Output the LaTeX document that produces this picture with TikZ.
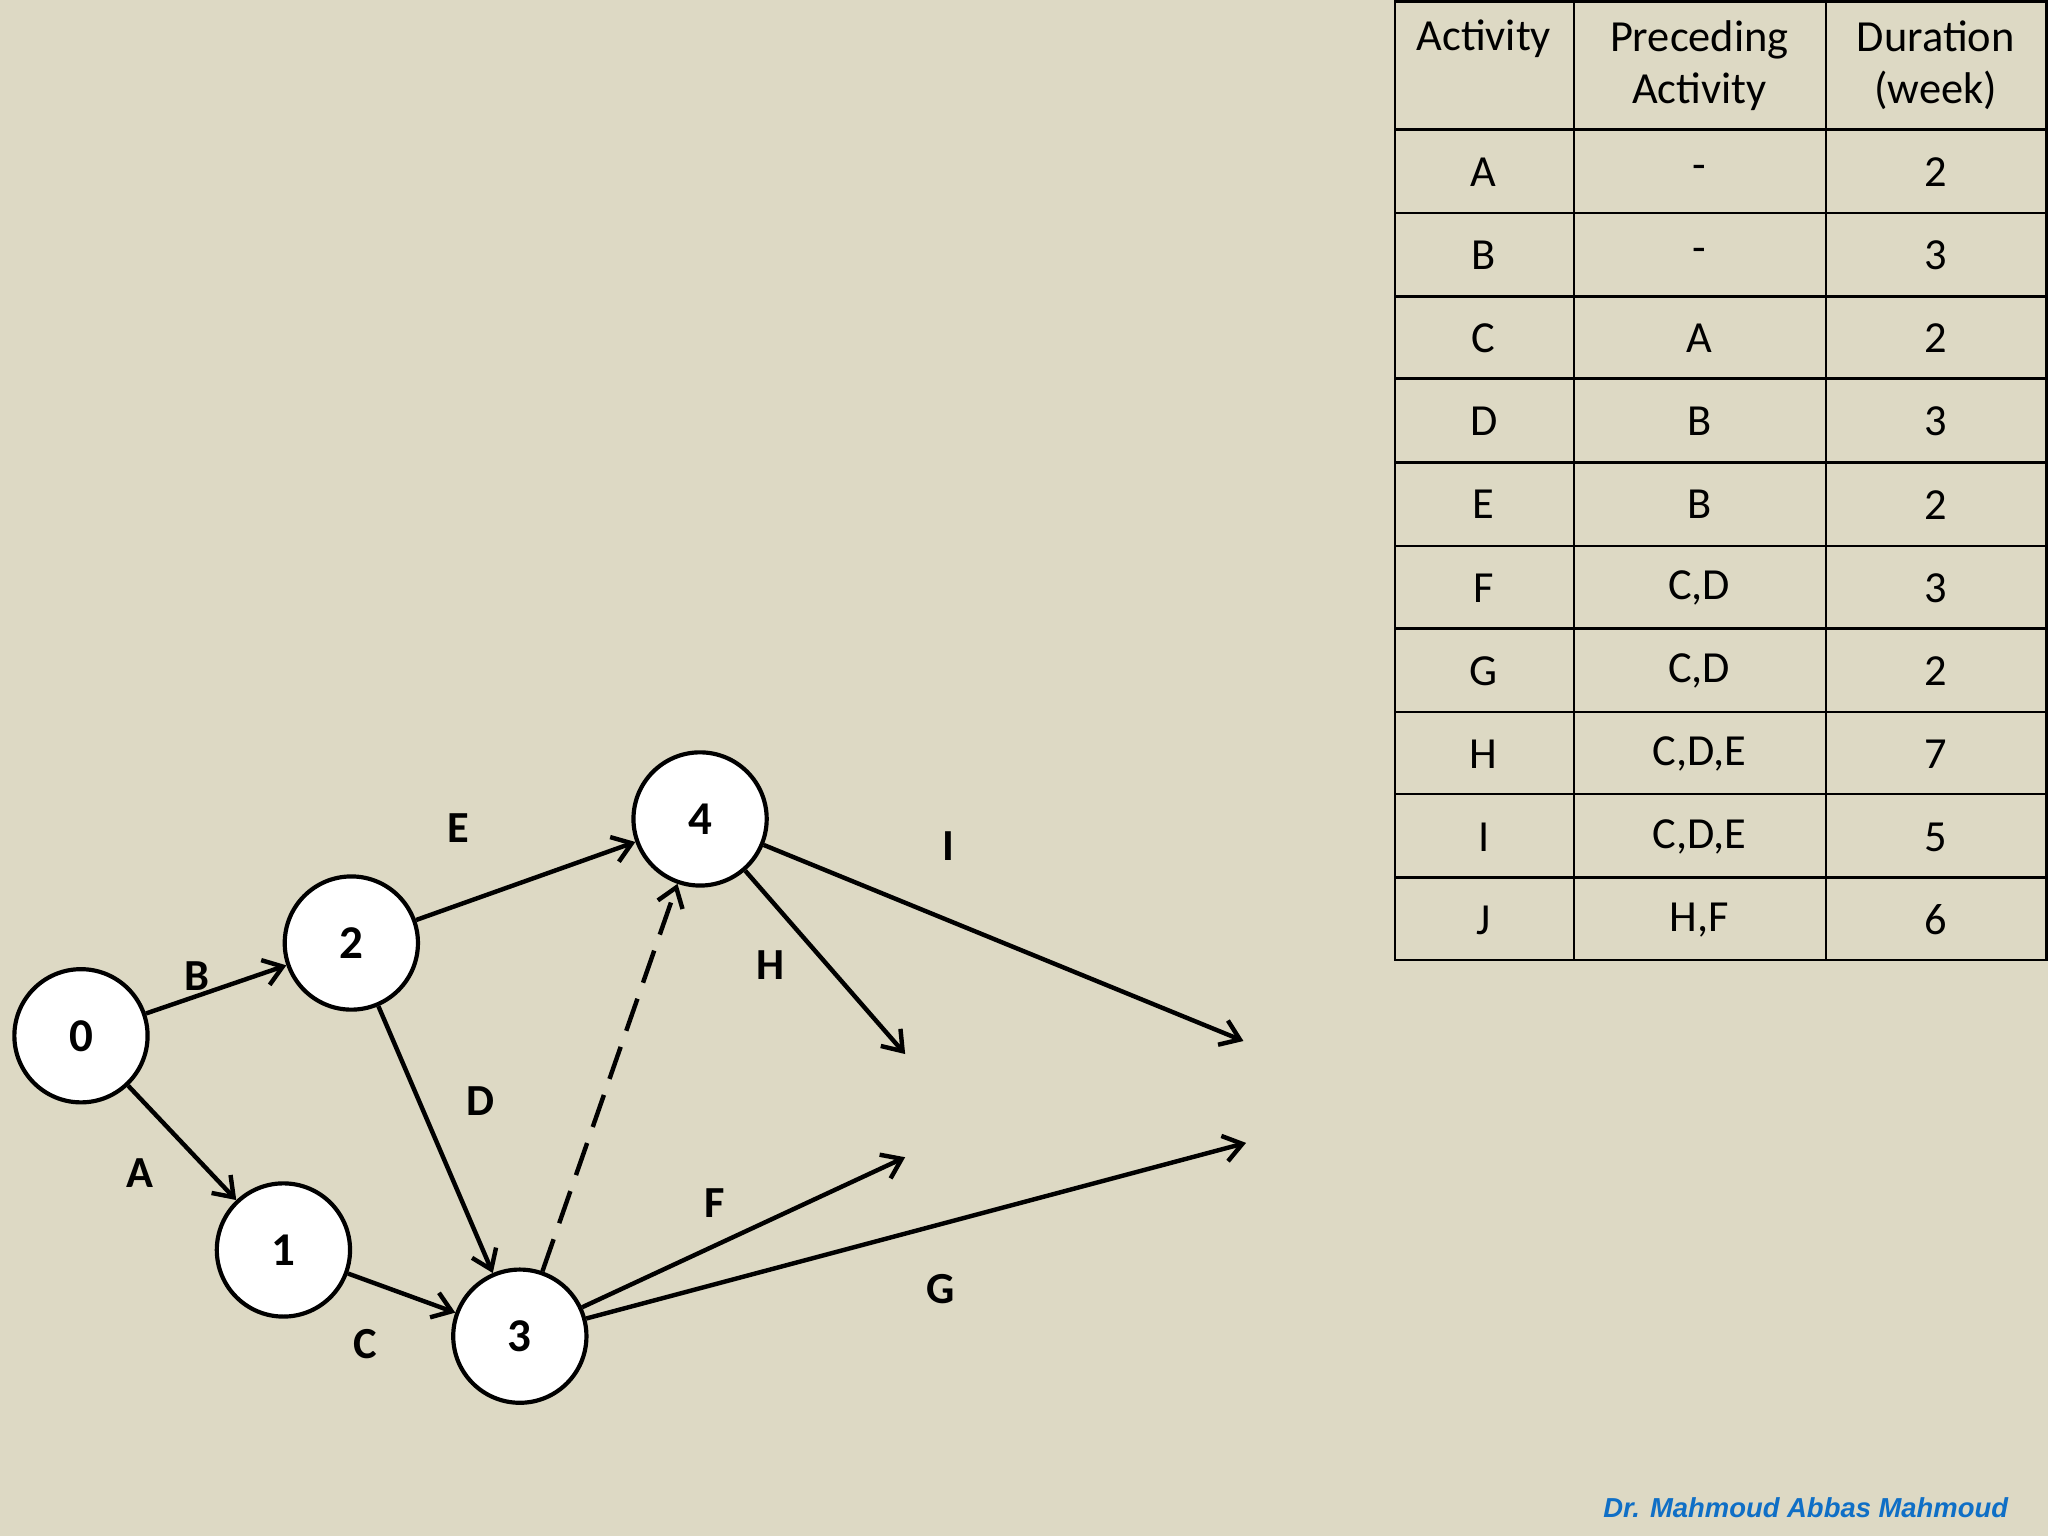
\documentclass[tikz,border=0pt]{standalone}
\usepackage{fontspec}
\setmainfont{Carlito}
\newfontfamily\sigfont{Liberation Sans}
\usetikzlibrary{arrows.meta}
\definecolor{bg}{HTML}{DDD9C4}
\definecolor{sig}{HTML}{0F6FC6}
\tikzset{
 circ/.style={circle,draw,fill=white,line width=3.2pt,minimum size=102pt,inner sep=0pt,font=\fontsize{36}{40}\selectfont\bfseries},
 arr/.style={line width=3.4pt,-{Straight Barb[length=14pt,width=20pt,line width=3.4pt]}},
 lab/.style={font=\fontsize{34}{38}\selectfont\bfseries},
 cell/.style={font=\fontsize{34}{40}\selectfont,align=center}
}
\begin{document}
\begin{tikzpicture}[x=1pt,y=-1pt]
\fill[bg] (0,0) rectangle (1568,1176);
\useasboundingbox (0,0) rectangle (1568,1176);
\node[circ] (n0) at (62,793) {0};
\node[circ] (n2) at (269,722) {2};
\node[circ] (n4) at (536,627) {4};
\node[circ] (n1) at (217,957) {1};
\node[circ] (n3) at (398,1023) {3};
\coordinate (hE) at (693,807);
\coordinate (iE) at (952,797);
\coordinate (fE) at (693,886);
\coordinate (gE) at (954,875);
\draw[arr] (n0) -- (n2);
\draw[arr] (n0) -- (n1);
\draw[arr] (n2) -- (n4);
\draw[arr] (n2) -- (n3);
\draw[arr] (n1) -- (n3);
\draw[arr,dash pattern=on 26pt off 13pt] (n3) -- (n4);
\draw[arr] (n4) -- (hE);
\draw[arr] (n4) -- (iE);
\draw[arr] (n3) -- (fE);
\draw[arr] (n3) -- (gE);
\node[lab] (lB) at (151,747) {B};
\node[lab] (lA) at (107,898) {A};
\node[lab] (lE) at (351,634) {E};
\node[lab] (lD) at (368,843) {D};
\node[lab] (lC) at (280,1029) {C};
\node[lab] (lH) at (590,739) {H};
\node[lab] (lI) at (726,648) {I};
\node[lab] (lF) at (547,921) {F};
\node[lab] (lG) at (720,987) {G};
% table
\draw[line width=2pt] (1068,1) rectangle (1567,735);
\foreach \x in {1205,1398} \draw[line width=2pt] (\x,1) -- (\x,735);
\foreach \y in {99,163,227,290,354,418,481,545,608,672} \draw[line width=2pt] (1068,\y) -- (1567,\y);
\node[cell] (h1) at (1136,30) {Activity};
\node[cell] (h2) at (1301,50) {Preceding\\Activity};
\node[cell] (h3) at (1482,50) {Duration\\(week)};
\foreach \a/\p/\d [count=\i] in {A/-/2,B/-/3,C/A/2,D/B/3,E/B/2,F/{C,D}/3,G/{C,D}/2,H/{C,D,E}/7,I/{C,D,E}/5,J/{H,F}/6}{
 \pgfmathsetmacro{\yy}{132+63.6*(\i-1)}
 \node[cell] (a\i) at (1136,\yy) {\a};
 \node[cell] (p\i) at (1301,\yy) {\p};
 \node[cell] (d\i) at (1482,\yy) {\d};
}
\node[font=\fontsize{21}{24}\sigfont\bfseries\itshape,text=sig,anchor=east] (sg) at (1541,1154) {Dr. Mahmoud Abbas Mahmoud};
\end{tikzpicture}
\end{document}
